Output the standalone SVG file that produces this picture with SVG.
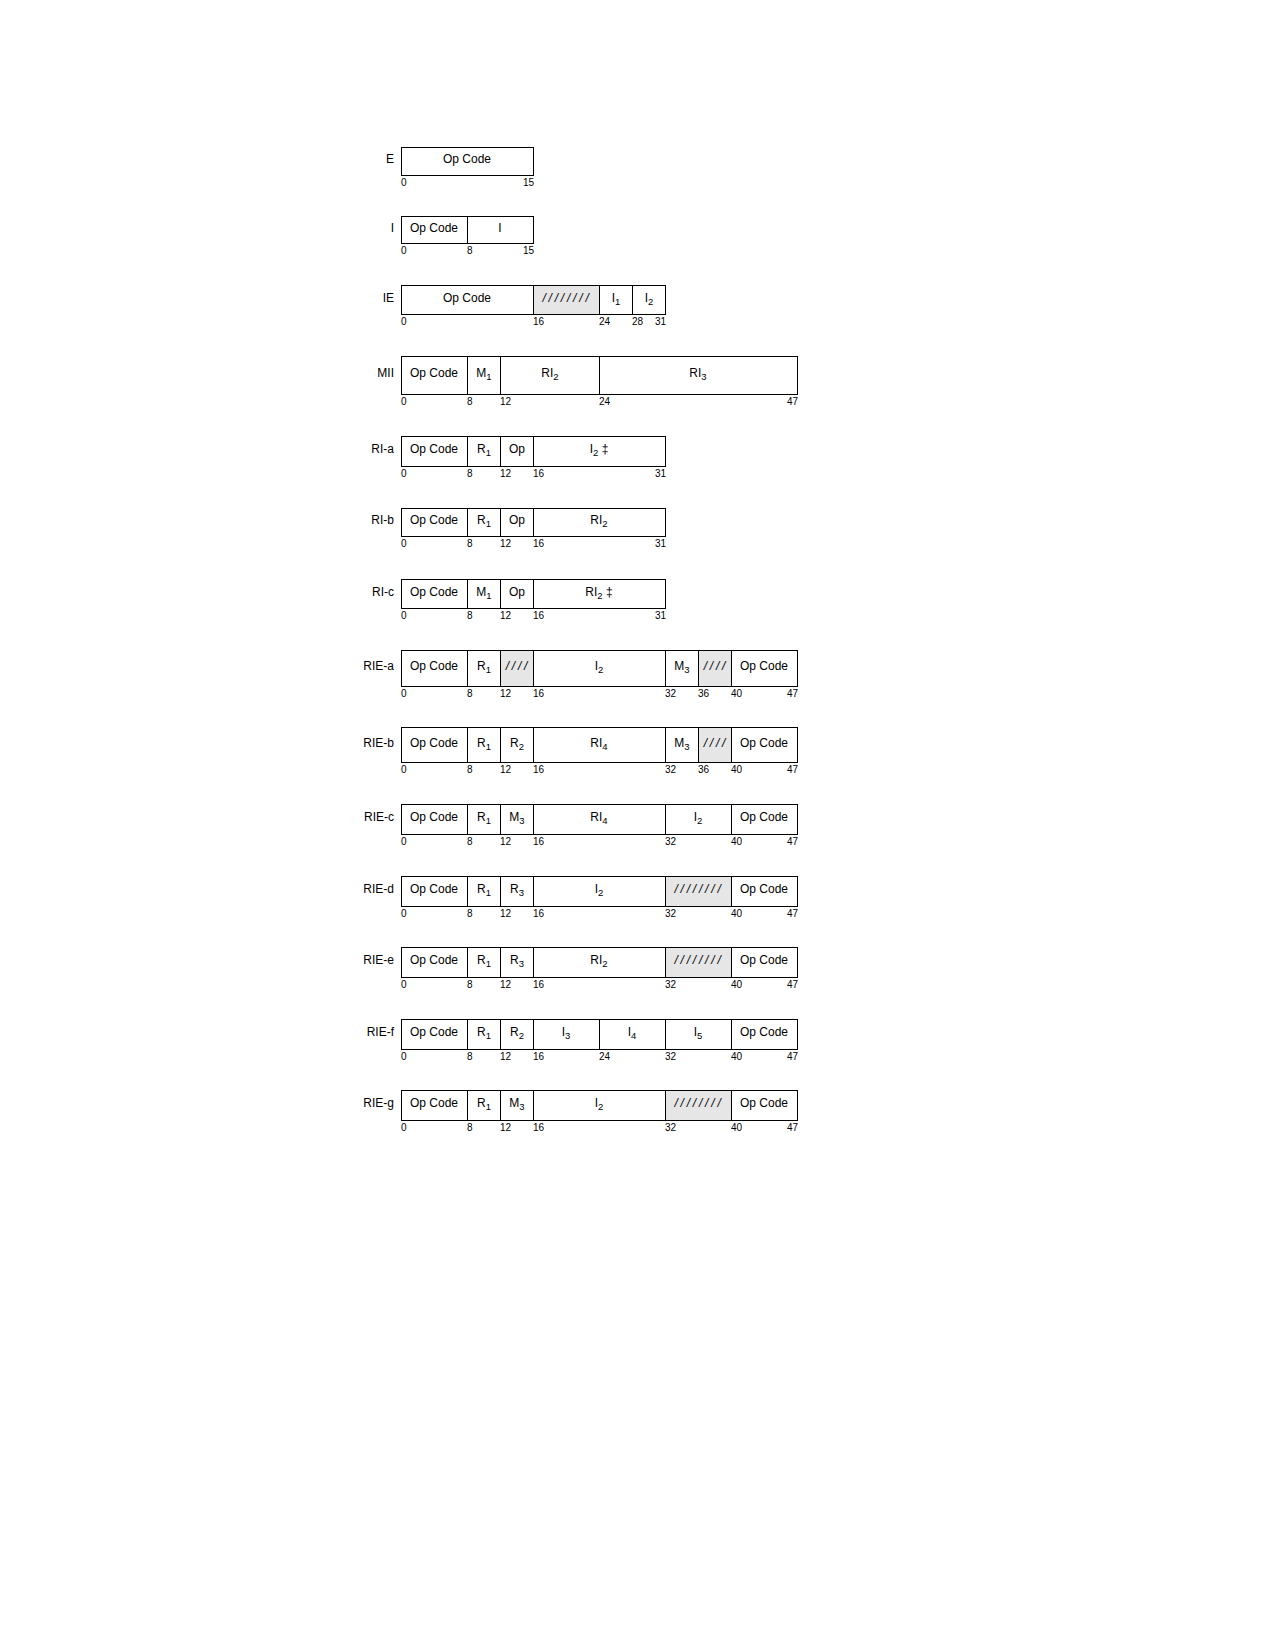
<svg xmlns="http://www.w3.org/2000/svg" width="1275" height="1650" viewBox="0 0 1275 1650">
<style>
.c{fill:#fff;stroke:#000;stroke-width:1}
.s{fill:#e6e6e6;stroke:#000;stroke-width:1}
text{font-family:"Liberation Sans",Arial,Helvetica,sans-serif;fill:#000}
.t{font-size:12px;text-anchor:middle}
.l{font-size:12px;text-anchor:end}
.n{font-size:10px;text-anchor:start}
.ne{font-size:10px;text-anchor:end}
.h{font-size:12px;text-anchor:middle;font-style:italic;letter-spacing:2.8px}
.sub{font-size:9.5px}
</style>
<rect width="1275" height="1650" fill="#fff"/>

<g id="E">
<rect class="c" x="401.5" y="147.5" width="132" height="28"/>
<text class="l" x="394" y="163">E</text>
<text class="t" x="467" y="163">Op Code</text>
<text class="n" x="401" y="186">0</text>
<text class="ne" x="534" y="186">15</text>
</g>

<g id="I">
<rect class="c" x="401.5" y="216.5" width="66" height="27"/>
<rect class="c" x="467.5" y="216.5" width="66" height="27"/>
<text class="l" x="394" y="232">I</text>
<text class="t" x="434" y="232">Op Code</text>
<text class="t" x="500" y="232">I</text>
<text class="n" x="401" y="254">0</text>
<text class="n" x="467" y="254">8</text>
<text class="ne" x="534" y="254">15</text>
</g>

<g id="IE">
<rect class="c" x="401.5" y="285.5" width="132" height="29"/>
<rect class="s" x="533.5" y="285.5" width="66" height="29"/>
<rect class="c" x="599.5" y="285.5" width="33" height="29"/>
<rect class="c" x="632.5" y="285.5" width="33" height="29"/>
<text class="l" x="394" y="302">IE</text>
<text class="t" x="467" y="302">Op Code</text>
<text class="h" x="567" y="302">////////</text>
<text class="t" x="616" y="302">I<tspan class="sub" dy="3">1</tspan></text>
<text class="t" x="649" y="302">I<tspan class="sub" dy="3">2</tspan></text>
<text class="n" x="401" y="325">0</text>
<text class="n" x="533" y="325">16</text>
<text class="n" x="599" y="325">24</text>
<text class="n" x="632" y="325">28</text>
<text class="ne" x="666" y="325">31</text>
</g>

<g id="MII">
<rect class="c" x="401.5" y="356.5" width="66" height="38"/>
<rect class="c" x="467.5" y="356.5" width="33" height="38"/>
<rect class="c" x="500.5" y="356.5" width="99" height="38"/>
<rect class="c" x="599.5" y="356.5" width="198" height="38"/>
<text class="l" x="394" y="377">MII</text>
<text class="t" x="434" y="377">Op Code</text>
<text class="t" x="484" y="377">M<tspan class="sub" dy="3">1</tspan></text>
<text class="t" x="550" y="377">RI<tspan class="sub" dy="3">2</tspan></text>
<text class="t" x="698" y="377">RI<tspan class="sub" dy="3">3</tspan></text>
<text class="n" x="401" y="405">0</text>
<text class="n" x="467" y="405">8</text>
<text class="n" x="500" y="405">12</text>
<text class="n" x="599" y="405">24</text>
<text class="ne" x="798" y="405">47</text>
</g>

<g id="RI-a">
<rect class="c" x="401.5" y="436.5" width="66" height="30"/>
<rect class="c" x="467.5" y="436.5" width="33" height="30"/>
<rect class="c" x="500.5" y="436.5" width="33" height="30"/>
<rect class="c" x="533.5" y="436.5" width="132" height="30"/>
<text class="l" x="394" y="453">RI-a</text>
<text class="t" x="434" y="453">Op Code</text>
<text class="t" x="484" y="453">R<tspan class="sub" dy="3">1</tspan></text>
<text class="t" x="517" y="453">Op</text>
<text class="t" x="599" y="453">I<tspan class="sub" dy="3">2</tspan><tspan dy="-3"> ‡</tspan></text>
<text class="n" x="401" y="477">0</text>
<text class="n" x="467" y="477">8</text>
<text class="n" x="500" y="477">12</text>
<text class="n" x="533" y="477">16</text>
<text class="ne" x="666" y="477">31</text>
</g>

<g id="RI-b">
<rect class="c" x="401.5" y="508.5" width="66" height="28"/>
<rect class="c" x="467.5" y="508.5" width="33" height="28"/>
<rect class="c" x="500.5" y="508.5" width="33" height="28"/>
<rect class="c" x="533.5" y="508.5" width="132" height="28"/>
<text class="l" x="394" y="524">RI-b</text>
<text class="t" x="434" y="524">Op Code</text>
<text class="t" x="484" y="524">R<tspan class="sub" dy="3">1</tspan></text>
<text class="t" x="517" y="524">Op</text>
<text class="t" x="599" y="524">RI<tspan class="sub" dy="3">2</tspan></text>
<text class="n" x="401" y="547">0</text>
<text class="n" x="467" y="547">8</text>
<text class="n" x="500" y="547">12</text>
<text class="n" x="533" y="547">16</text>
<text class="ne" x="666" y="547">31</text>
</g>

<g id="RI-c">
<rect class="c" x="401.5" y="579.5" width="66" height="29"/>
<rect class="c" x="467.5" y="579.5" width="33" height="29"/>
<rect class="c" x="500.5" y="579.5" width="33" height="29"/>
<rect class="c" x="533.5" y="579.5" width="132" height="29"/>
<text class="l" x="394" y="596">RI-c</text>
<text class="t" x="434" y="596">Op Code</text>
<text class="t" x="484" y="596">M<tspan class="sub" dy="3">1</tspan></text>
<text class="t" x="517" y="596">Op</text>
<text class="t" x="599" y="596">RI<tspan class="sub" dy="3">2</tspan><tspan dy="-3"> ‡</tspan></text>
<text class="n" x="401" y="619">0</text>
<text class="n" x="467" y="619">8</text>
<text class="n" x="500" y="619">12</text>
<text class="n" x="533" y="619">16</text>
<text class="ne" x="666" y="619">31</text>
</g>

<g id="RIE-a">
<rect class="c" x="401.5" y="650.5" width="66" height="36"/>
<rect class="c" x="467.5" y="650.5" width="33" height="36"/>
<rect class="s" x="500.5" y="650.5" width="33" height="36"/>
<rect class="c" x="533.5" y="650.5" width="132" height="36"/>
<rect class="c" x="665.5" y="650.5" width="33" height="36"/>
<rect class="s" x="698.5" y="650.5" width="33" height="36"/>
<rect class="c" x="731.5" y="650.5" width="66" height="36"/>
<text class="l" x="394" y="670">RIE-a</text>
<text class="t" x="434" y="670">Op Code</text>
<text class="t" x="484" y="670">R<tspan class="sub" dy="3">1</tspan></text>
<text class="h" x="518" y="670">////</text>
<text class="t" x="599" y="670">I<tspan class="sub" dy="3">2</tspan></text>
<text class="t" x="682" y="670">M<tspan class="sub" dy="3">3</tspan></text>
<text class="h" x="716" y="670">////</text>
<text class="t" x="764" y="670">Op Code</text>
<text class="n" x="401" y="697">0</text>
<text class="n" x="467" y="697">8</text>
<text class="n" x="500" y="697">12</text>
<text class="n" x="533" y="697">16</text>
<text class="n" x="665" y="697">32</text>
<text class="n" x="698" y="697">36</text>
<text class="n" x="731" y="697">40</text>
<text class="ne" x="798" y="697">47</text>
</g>

<g id="RIE-b">
<rect class="c" x="401.5" y="727.5" width="66" height="35"/>
<rect class="c" x="467.5" y="727.5" width="33" height="35"/>
<rect class="c" x="500.5" y="727.5" width="33" height="35"/>
<rect class="c" x="533.5" y="727.5" width="132" height="35"/>
<rect class="c" x="665.5" y="727.5" width="33" height="35"/>
<rect class="s" x="698.5" y="727.5" width="33" height="35"/>
<rect class="c" x="731.5" y="727.5" width="66" height="35"/>
<text class="l" x="394" y="747">RIE-b</text>
<text class="t" x="434" y="747">Op Code</text>
<text class="t" x="484" y="747">R<tspan class="sub" dy="3">1</tspan></text>
<text class="t" x="517" y="747">R<tspan class="sub" dy="3">2</tspan></text>
<text class="t" x="599" y="747">RI<tspan class="sub" dy="3">4</tspan></text>
<text class="t" x="682" y="747">M<tspan class="sub" dy="3">3</tspan></text>
<text class="h" x="716" y="747">////</text>
<text class="t" x="764" y="747">Op Code</text>
<text class="n" x="401" y="773">0</text>
<text class="n" x="467" y="773">8</text>
<text class="n" x="500" y="773">12</text>
<text class="n" x="533" y="773">16</text>
<text class="n" x="665" y="773">32</text>
<text class="n" x="698" y="773">36</text>
<text class="n" x="731" y="773">40</text>
<text class="ne" x="798" y="773">47</text>
</g>

<g id="RIE-c">
<rect class="c" x="401.5" y="804.5" width="66" height="30"/>
<rect class="c" x="467.5" y="804.5" width="33" height="30"/>
<rect class="c" x="500.5" y="804.5" width="33" height="30"/>
<rect class="c" x="533.5" y="804.5" width="132" height="30"/>
<rect class="c" x="665.5" y="804.5" width="66" height="30"/>
<rect class="c" x="731.5" y="804.5" width="66" height="30"/>
<text class="l" x="394" y="821">RIE-c</text>
<text class="t" x="434" y="821">Op Code</text>
<text class="t" x="484" y="821">R<tspan class="sub" dy="3">1</tspan></text>
<text class="t" x="517" y="821">M<tspan class="sub" dy="3">3</tspan></text>
<text class="t" x="599" y="821">RI<tspan class="sub" dy="3">4</tspan></text>
<text class="t" x="698" y="821">I<tspan class="sub" dy="3">2</tspan></text>
<text class="t" x="764" y="821">Op Code</text>
<text class="n" x="401" y="845">0</text>
<text class="n" x="467" y="845">8</text>
<text class="n" x="500" y="845">12</text>
<text class="n" x="533" y="845">16</text>
<text class="n" x="665" y="845">32</text>
<text class="n" x="731" y="845">40</text>
<text class="ne" x="798" y="845">47</text>
</g>

<g id="RIE-d">
<rect class="c" x="401.5" y="876.5" width="66" height="30"/>
<rect class="c" x="467.5" y="876.5" width="33" height="30"/>
<rect class="c" x="500.5" y="876.5" width="33" height="30"/>
<rect class="c" x="533.5" y="876.5" width="132" height="30"/>
<rect class="s" x="665.5" y="876.5" width="66" height="30"/>
<rect class="c" x="731.5" y="876.5" width="66" height="30"/>
<text class="l" x="394" y="893">RIE-d</text>
<text class="t" x="434" y="893">Op Code</text>
<text class="t" x="484" y="893">R<tspan class="sub" dy="3">1</tspan></text>
<text class="t" x="517" y="893">R<tspan class="sub" dy="3">3</tspan></text>
<text class="t" x="599" y="893">I<tspan class="sub" dy="3">2</tspan></text>
<text class="h" x="699" y="893">////////</text>
<text class="t" x="764" y="893">Op Code</text>
<text class="n" x="401" y="917">0</text>
<text class="n" x="467" y="917">8</text>
<text class="n" x="500" y="917">12</text>
<text class="n" x="533" y="917">16</text>
<text class="n" x="665" y="917">32</text>
<text class="n" x="731" y="917">40</text>
<text class="ne" x="798" y="917">47</text>
</g>

<g id="RIE-e">
<rect class="c" x="401.5" y="947.5" width="66" height="30"/>
<rect class="c" x="467.5" y="947.5" width="33" height="30"/>
<rect class="c" x="500.5" y="947.5" width="33" height="30"/>
<rect class="c" x="533.5" y="947.5" width="132" height="30"/>
<rect class="s" x="665.5" y="947.5" width="66" height="30"/>
<rect class="c" x="731.5" y="947.5" width="66" height="30"/>
<text class="l" x="394" y="964">RIE-e</text>
<text class="t" x="434" y="964">Op Code</text>
<text class="t" x="484" y="964">R<tspan class="sub" dy="3">1</tspan></text>
<text class="t" x="517" y="964">R<tspan class="sub" dy="3">3</tspan></text>
<text class="t" x="599" y="964">RI<tspan class="sub" dy="3">2</tspan></text>
<text class="h" x="699" y="964">////////</text>
<text class="t" x="764" y="964">Op Code</text>
<text class="n" x="401" y="988">0</text>
<text class="n" x="467" y="988">8</text>
<text class="n" x="500" y="988">12</text>
<text class="n" x="533" y="988">16</text>
<text class="n" x="665" y="988">32</text>
<text class="n" x="731" y="988">40</text>
<text class="ne" x="798" y="988">47</text>
</g>

<g id="RIE-f">
<rect class="c" x="401.5" y="1019.5" width="66" height="30"/>
<rect class="c" x="467.5" y="1019.5" width="33" height="30"/>
<rect class="c" x="500.5" y="1019.5" width="33" height="30"/>
<rect class="c" x="533.5" y="1019.5" width="66" height="30"/>
<rect class="c" x="599.5" y="1019.5" width="66" height="30"/>
<rect class="c" x="665.5" y="1019.5" width="66" height="30"/>
<rect class="c" x="731.5" y="1019.5" width="66" height="30"/>
<text class="l" x="394" y="1036">RIE-f</text>
<text class="t" x="434" y="1036">Op Code</text>
<text class="t" x="484" y="1036">R<tspan class="sub" dy="3">1</tspan></text>
<text class="t" x="517" y="1036">R<tspan class="sub" dy="3">2</tspan></text>
<text class="t" x="566" y="1036">I<tspan class="sub" dy="3">3</tspan></text>
<text class="t" x="632" y="1036">I<tspan class="sub" dy="3">4</tspan></text>
<text class="t" x="698" y="1036">I<tspan class="sub" dy="3">5</tspan></text>
<text class="t" x="764" y="1036">Op Code</text>
<text class="n" x="401" y="1060">0</text>
<text class="n" x="467" y="1060">8</text>
<text class="n" x="500" y="1060">12</text>
<text class="n" x="533" y="1060">16</text>
<text class="n" x="599" y="1060">24</text>
<text class="n" x="665" y="1060">32</text>
<text class="n" x="731" y="1060">40</text>
<text class="ne" x="798" y="1060">47</text>
</g>

<g id="RIE-g">
<rect class="c" x="401.5" y="1090.5" width="66" height="30"/>
<rect class="c" x="467.5" y="1090.5" width="33" height="30"/>
<rect class="c" x="500.5" y="1090.5" width="33" height="30"/>
<rect class="c" x="533.5" y="1090.5" width="132" height="30"/>
<rect class="s" x="665.5" y="1090.5" width="66" height="30"/>
<rect class="c" x="731.5" y="1090.5" width="66" height="30"/>
<text class="l" x="394" y="1107">RIE-g</text>
<text class="t" x="434" y="1107">Op Code</text>
<text class="t" x="484" y="1107">R<tspan class="sub" dy="3">1</tspan></text>
<text class="t" x="517" y="1107">M<tspan class="sub" dy="3">3</tspan></text>
<text class="t" x="599" y="1107">I<tspan class="sub" dy="3">2</tspan></text>
<text class="h" x="699" y="1107">////////</text>
<text class="t" x="764" y="1107">Op Code</text>
<text class="n" x="401" y="1131">0</text>
<text class="n" x="467" y="1131">8</text>
<text class="n" x="500" y="1131">12</text>
<text class="n" x="533" y="1131">16</text>
<text class="n" x="665" y="1131">32</text>
<text class="n" x="731" y="1131">40</text>
<text class="ne" x="798" y="1131">47</text>
</g>

<g id="connectors"></g>
</svg>
